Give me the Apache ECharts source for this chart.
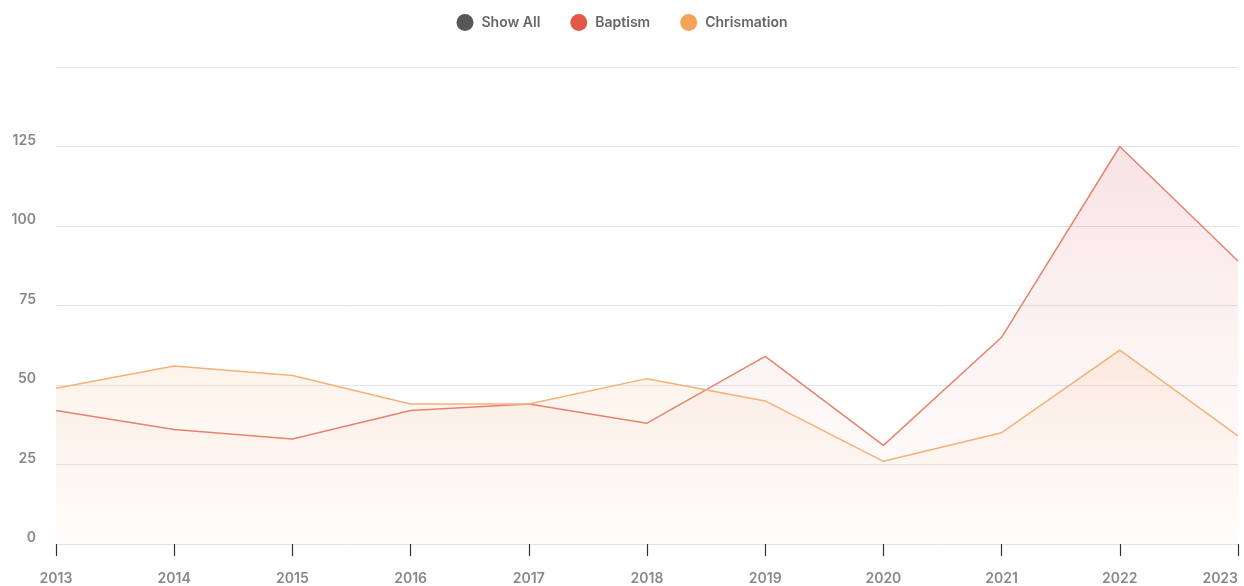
<!DOCTYPE html>
<html>
<head>
<meta charset="utf-8">
<style>
html,body{margin:0;padding:0;background:#fff;}
#chart{width:1244px;height:586px;}
</style>
<script src="https://cdn.jsdelivr.net/npm/echarts@6/dist/echarts.min.js"></script>
</head>
<body>
<div id="chart"></div>
<script>
const years = ['2013','2014','2015','2016','2017','2018','2019','2020','2021','2022','2023'];
const baptism = [42, 36, 33, 42, 44, 38, 59, 31, 65, 125, 89];
const chrismation = [49, 56, 53, 44, 44, 52, 45, 26, 35, 61, 34];
const legendNames = ['Show All', 'Baptism', 'Chrismation'];

const chart = echarts.init(document.getElementById('chart'));
const font = 'Inter, "Noto Sans", sans-serif';
chart.setOption({
  animation: false,
  textStyle: { fontFamily: font },
  legend: {
    top: 9,
    left: 'center',
    icon: 'circle',
    itemWidth: 17,
    itemHeight: 17,
    itemGap: 30,
    data: legendNames,
    textStyle: { color: '#666', fontSize: 14, fontWeight: 600, fontFamily: font, padding: [0, 0, 0, 3] }
  },
  grid: { left: 56, right: 6, top: 67, bottom: 42, containLabel: false },
  xAxis: {
    type: 'category',
    data: years,
    boundaryGap: false,
    offset: 7,
    axisLine: { show: false },
    axisTick: { show: true, length: 12, lineStyle: { color: '#333', width: 1.2 } },
    axisLabel: { color: '#888', fontSize: 14, fontWeight: 600, margin: 21, alignMaxLabel: 'right', fontFamily: font },
    splitLine: { show: false }
  },
  yAxis: {
    type: 'value',
    min: 0,
    max: 150,
    interval: 25,
    axisLine: { show: false },
    axisTick: { show: false },
    axisLabel: {
      color: '#888', fontSize: 14, fontWeight: 600, margin: 20, verticalAlign: 'bottom', lineHeight: 12, fontFamily: font,
      showMaxLabel: false
    },
    splitLine: { show: true, lineStyle: { color: '#e1e4ec', width: 1 } }
  },
  series: [
    {
      name: 'Show All',
      type: 'line',
      data: [],
      itemStyle: { color: '#575757' }
    },
    {
      name: 'Baptism',
      type: 'line',
      data: baptism,
      showSymbol: false,
      symbol: 'none',
      itemStyle: { color: '#E05A47' },
      lineStyle: { color: '#E8826F', width: 1.5 },
      areaStyle: {
        color: new echarts.graphic.LinearGradient(0, 0, 0, 1, [
          { offset: 0, color: 'rgba(225,120,130,0.30)' },
          { offset: 1, color: 'rgba(245,200,190,0.05)' }
        ])
      }
    },
    {
      name: 'Chrismation',
      type: 'line',
      data: chrismation,
      showSymbol: false,
      symbol: 'none',
      itemStyle: { color: '#F6A35A' },
      lineStyle: { color: '#F6B178', width: 1.5 },
      areaStyle: {
        color: new echarts.graphic.LinearGradient(0, 0, 0, 1, [
          { offset: 0, color: 'rgba(245,190,140,0.30)' },
          { offset: 1, color: 'rgba(250,225,200,0.05)' }
        ])
      }
    }
  ]
});
</script>
</body>
</html>
